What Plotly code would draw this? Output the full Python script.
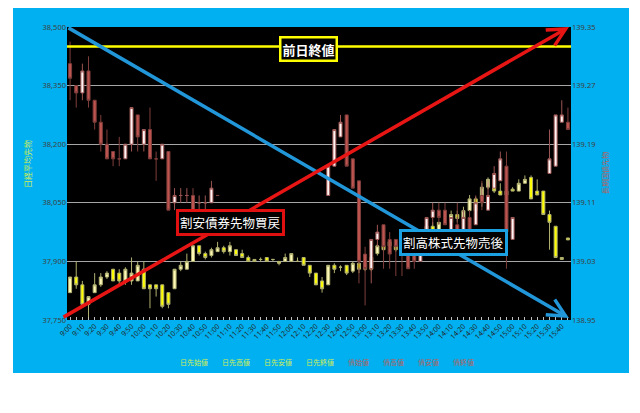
import plotly.graph_objects as go

# 5-minute bars, 9:00 - 15:45
times = [f"{h}:{m:02d}" for h in range(9, 16) for m in range(0, 60, 5) if h * 60 + m <= 15 * 60 + 45]
tick_text = [t if i % 2 == 0 else "" for i, t in enumerate(times)]

prev_close = 38450

# Nikkei 225 futures (left axis)
nk_open = [37820, 37860, 37840, 37790, 37820, 37840, 37860, 37880, 37870, 37850,
           37850, 37850, 37880, 37840, 37840, 37840, 37820, 37830, 37880, 37880,
           37900, 37940, 37920, 37915, 37925, 37935, 37925, 37930, 37920, 37910,
           37905, 37905, 37910, 37905, 37900, 37900, 37900, 37900, 37910, 37890,
           37870, 37850, 37840, 37890, 37885, 37890, 37875, 37895, 37895, 37880,
           37920, 37940, 37950, 37940, 37930, 37940, 37950, 37960, 37960, 37990,
           37970, 38000, 38000, 38020, 38010, 38030, 38060, 38060, 38090, 38110,
           38080, 38070, 38085, 38080, 38100, 38115, 38080, 38080, 38020, 37990,
           37910, 37960]
nk_high = [37860, 37900, 37850, 37810, 37870, 37870, 37875, 37880, 37880, 37885,
           37910, 37900, 37900, 37840, 37840, 37840, 37820, 37880, 37900, 37920,
           37940, 37940, 37925, 37935, 37950, 37940, 37950, 37930, 37930, 37915,
           37905, 37910, 37910, 37905, 37900, 37920, 37920, 37910, 37910, 37890,
           37870, 37860, 37890, 37895, 37890, 37890, 37900, 37900, 37900, 37915,
           37945, 37945, 37955, 37945, 37945, 37955, 37965, 37970, 37990, 38000,
           38000, 38015, 38030, 38030, 38040, 38070, 38065, 38100, 38115, 38110,
           38100, 38090, 38090, 38110, 38120, 38120, 38110, 38080, 38030, 37990,
           37910, 37960]
nk_low = [37820, 37830, 37790, 37750, 37820, 37835, 37855, 37850, 37840, 37840,
          37840, 37850, 37830, 37780, 37810, 37780, 37780, 37830, 37875, 37880,
          37900, 37915, 37905, 37910, 37925, 37920, 37915, 37915, 37910, 37900,
          37900, 37900, 37900, 37900, 37890, 37900, 37900, 37900, 37890, 37860,
          37840, 37820, 37840, 37870, 37875, 37865, 37870, 37870, 37875, 37875,
          37915, 37925, 37935, 37925, 37925, 37935, 37945, 37950, 37955, 37965,
          37965, 37995, 38000, 38000, 38005, 38030, 38030, 38040, 38085, 38075,
          38070, 38065, 38080, 38080, 38100, 38060, 38070, 38020, 37930, 37910,
          37905, 37955]
nk_close = [37860, 37840, 37790, 37810, 37840, 37860, 37870, 37850, 37850, 37880,
            37870, 37890, 37830, 37830, 37830, 37785, 37790, 37880, 37890, 37900,
            37940, 37920, 37910, 37930, 37935, 37925, 37940, 37915, 37910, 37900,
            37900, 37905, 37900, 37905, 37895, 37910, 37920, 37900, 37890, 37870,
            37840, 37830, 37890, 37880, 37885, 37870, 37895, 37880, 37880, 37910,
            37940, 37930, 37940, 37930, 37940, 37950, 37960, 37965, 37990, 37970,
            38000, 38010, 38020, 38010, 38030, 38060, 38030, 38090, 38110, 38080,
            38070, 38080, 38080, 38100, 38110, 38060, 38070, 38020, 38000, 37910,
            37905, 37955]

# JGB futures (right axis), lunch break and evening gap left empty
N = None
jgb_open = [139.30, 139.27, 139.26, 139.29, 139.25, 139.22, 139.19, 139.18, 139.17, 139.17,
            139.19, 139.23, 139.19, 139.21, 139.17, 139.17, 139.18, 139.11, 139.12, 139.12,
            139.12, 139.11, 139.11, 139.11, 139.12, N, N, N, N, N,
            N, N, N, N, N, N, N, N, N, N,
            N, N, 139.12, 139.16, 139.20, 139.23, 139.17, 139.14, 139.04, 139.02,
            139.06, 139.08, 139.06, 139.06, 139.05, 139.04, 139.04, 139.03, 139.06, 139.09,
            139.10, 139.10, 139.07, 139.08, 139.07, 139.09, 139.08, 139.12, 139.10, 139.13,
            139.14, 139.16, 139.06, N, N, N, N, N, 139.15, 139.16,
            139.22, 139.22]
jgb_high = [139.33, 139.27, 139.30, 139.31, 139.25, 139.23, 139.21, 139.18, 139.20, 139.19,
            139.24, 139.23, 139.21, 139.24, 139.18, 139.19, 139.18, 139.13, 139.13, 139.13,
            139.13, 139.12, 139.12, 139.14, 139.12, N, N, N, N, N,
            N, N, N, N, N, N, N, N, N, N,
            N, N, 139.16, 139.21, 139.23, 139.23, 139.17, 139.14, 139.05, 139.06,
            139.08, 139.08, 139.07, 139.06, 139.05, 139.04, 139.04, 139.04, 139.09, 139.11,
            139.11, 139.11, 139.09, 139.11, 139.10, 139.10, 139.12, 139.14, 139.14, 139.16,
            139.18, 139.18, 139.09, N, N, N, N, N, 139.21, 139.23,
            139.25, 139.24]
jgb_low = [139.25, 139.24, 139.25, 139.24, 139.21, 139.18, 139.17, 139.16, 139.16, 139.17,
           139.18, 139.18, 139.18, 139.17, 139.14, 139.17, 139.10, 139.10, 139.11, 139.11,
           139.09, 139.10, 139.10, 139.11, 139.12, N, N, N, N, N,
           N, N, N, N, N, N, N, N, N, N,
           N, N, 139.12, 139.16, 139.20, 139.16, 139.13, 139.00, 138.97, 139.00,
           139.05, 139.02, 139.02, 139.01, 139.01, 139.02, 139.02, 139.03, 139.06, 139.08,
           139.08, 139.08, 139.07, 139.07, 139.07, 139.07, 139.08, 139.10, 139.10, 139.13,
           139.14, 139.02, 139.06, N, N, N, N, N, 139.15, 139.16,
           139.22, 139.21]
jgb_close = [139.28, 139.26, 139.29, 139.25, 139.22, 139.19, 139.17, 139.17, 139.17, 139.19,
             139.24, 139.20, 139.21, 139.17, 139.17, 139.19, 139.10, 139.12, 139.12, 139.12,
             139.09, 139.11, 139.11, 139.13, 139.12, N, N, N, N, N,
             N, N, N, N, N, N, N, N, N, N,
             N, N, 139.16, 139.21, 139.22, 139.16, 139.13, 139.03, 139.02, 139.06,
             139.07, 139.05, 139.04, 139.05, 139.04, 139.02, 139.03, 139.04, 139.09, 139.10,
             139.09, 139.08, 139.09, 139.07, 139.09, 139.07, 139.11, 139.11, 139.12, 139.15,
             139.17, 139.07, 139.09, N, N, N, N, N, 139.17, 139.23,
             139.23, 139.21]

nk_labels = ["日先始値", "日先高値", "日先安値", "日先終値"]
jgb_labels = ["債始値", "債高値", "債安値", "債終値"]

FONT = "Noto Sans CJK JP"
GREEN_TXT = "#D2EE55"
BROWN_TXT = "#B5615E"

fig = go.Figure()

fig.add_trace(go.Candlestick(
    x=times, open=nk_open, high=nk_high, low=nk_low, close=nk_close,
    increasing=dict(fillcolor="#FFF9B8", line=dict(color="#B0B070", width=1)),
    decreasing=dict(fillcolor="#FFFF00", line=dict(color="#B0B070", width=1)),
    showlegend=False, yaxis="y",
))
fig.add_trace(go.Candlestick(
    x=times, open=jgb_open, high=jgb_high, low=jgb_low, close=jgb_close,
    increasing=dict(fillcolor="#FFF4F4", line=dict(color="#9C5552", width=1)),
    decreasing=dict(fillcolor="#BE5450", line=dict(color="#7E3E3B", width=1)),
    showlegend=False, yaxis="y2",
))

# the page body has an 8px margin, so the figure is 8px smaller and all
# positions below are given in the reference's page pixels
# plot area on the page: x 67..571, y 27..320
def px(x):
    return (x - 67) / 504.0


def py(y):
    return (320 - y) / 293.0


shapes = [
    dict(type="rect", xref="paper", yref="paper", x0=px(13), x1=px(629), y0=py(373), y1=py(1),
         fillcolor="#00B0F0", line=dict(width=0), layer="below"),
    dict(type="rect", xref="paper", yref="paper", x0=0, x1=1, y0=0, y1=1,
         fillcolor="black", line=dict(width=0), layer="below"),
    dict(type="line", xref="paper", yref="y", x0=0, x1=1, y0=prev_close, y1=prev_close,
         line=dict(color="#FFFF00", width=2.5), layer="above"),
]


def label(x, y, text, size, color, **kw):
    d = dict(xref="paper", yref="paper", x=px(x), y=py(y), text=text, showarrow=False,
             xanchor="center", yanchor="middle",
             font=dict(family=FONT, size=size, color=color))
    d.update(kw)
    return d


annotations = [
    # blue arrow (down) and red arrow (up)
    dict(xref="paper", yref="paper", x=px(569), y=py(318), ax=67 - 569, ay=27 - 318,
         text="", showarrow=True, arrowhead=5, arrowsize=1, arrowwidth=3.5,
         arrowcolor="#2196D8", standoff=0),
    dict(xref="paper", yref="paper", x=px(569), y=py(27), ax=62 - 569, ay=318 - 27,
         text="", showarrow=True, arrowhead=5, arrowsize=1, arrowwidth=3.5,
         arrowcolor="#E81515", standoff=0),
    label(308, 49, "<b>前日終値</b>", 13, "white",
          bgcolor="black", bordercolor="#FFFF00", borderwidth=2.5, borderpad=1),
    label(230, 222.5, "割安債券先物買戻", 12.5, "white",
          bgcolor="black", bordercolor="#E01010", borderwidth=3, borderpad=1),
    label(453, 242.5, "割高株式先物売後", 12.5, "white",
          bgcolor="black", bordercolor="#1BA1E2", borderwidth=3, borderpad=1),
    # axis titles
    label(27, 164, "日経平均先物", 8, GREEN_TXT, textangle=-90),
    label(605, 173, "長期国債先物", 7, BROWN_TXT, textangle=-90),
]

# legend row as plain text
legend_x = [193.5, 235.5, 277.5, 319.5, 358, 393, 428, 463]
for lab, lx in zip(nk_labels + jgb_labels, legend_x):
    annotations.append(label(lx, 362, lab, 7, GREEN_TXT if lab in nk_labels else BROWN_TXT))

fig.update_layout(
    width=632, height=405,
    margin=dict(l=59, r=69, t=19, b=93),
    paper_bgcolor="white", plot_bgcolor="black",
    boxgap=0.3,
    shapes=shapes, annotations=annotations,
    xaxis=dict(
        type="category", range=[-0.5, len(times) - 0.5],
        tickmode="array", tickvals=times, ticktext=tick_text, tickangle=-45,
        tickfont=dict(family="Noto Sans", size=7, color="#262626"),
        ticks="inside", ticklen=3, tickcolor="#BFBFBF",
        showgrid=False, zeroline=False, showline=False,
        rangeslider=dict(visible=False),
    ),
    yaxis=dict(
        range=[37750, 38500], tickvals=[37750, 37900, 38050, 38200, 38350, 38500],
        tickformat=",", tickfont=dict(family="Noto Sans", size=7.5, color="#404040"),
        gridcolor="#A6A6A6", gridwidth=1, zeroline=False, showline=False,
    ),
    yaxis2=dict(
        overlaying="y", side="right", range=[138.95, 139.35],
        tickvals=[138.95, 139.03, 139.11, 139.19, 139.27, 139.35], tickformat=".2f",
        tickfont=dict(family="Noto Sans", size=7.5, color="#404040"),
        showgrid=False, zeroline=False, showline=False,
    ),
)

fig.write_html("out.html")
